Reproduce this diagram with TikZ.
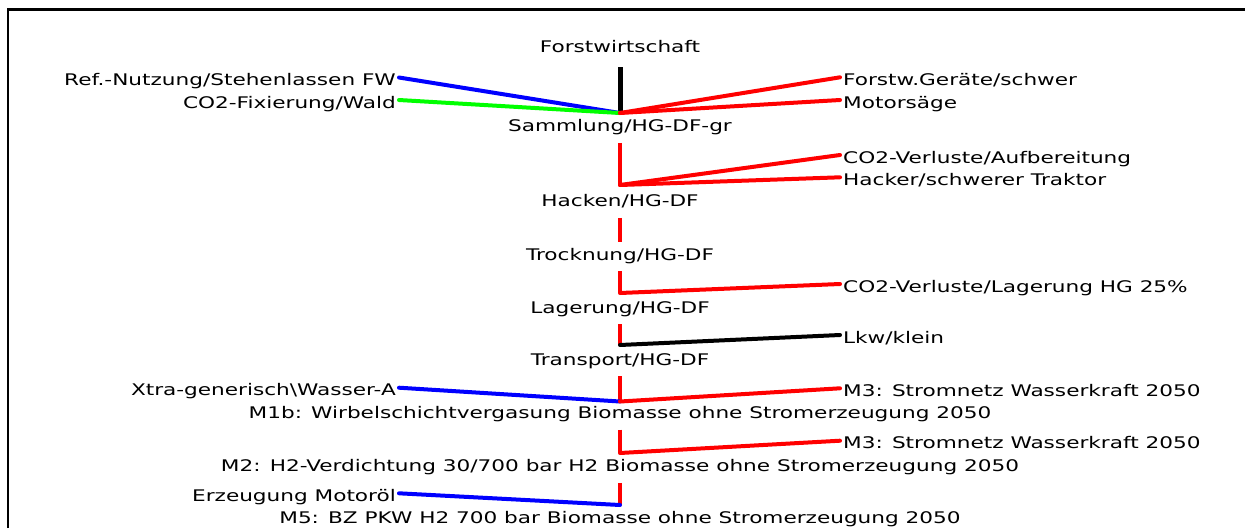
\documentclass[tikz,border=0pt]{standalone}
\usepackage{fontspec}
\setmainfont{DejaVu Sans}[FakeStretch=1.35]
\begin{document}
\begin{tikzpicture}[x=1pt,y=-1pt,
    lbl/.style={font=\fontsize{16}{18}\selectfont, inner ysep=0pt, inner xsep=3pt, text height=16pt, text depth=0pt},
    stage/.style={font=\fontsize{16}{18}\selectfont, inner sep=0pt, text height=12pt, text depth=4pt, anchor=base},
    flow/.style={line width=4pt, line cap=round},
    down/.style={line width=4pt, red, shorten <=7pt}]
\useasboundingbox (0,0) rectangle (1245,528);
\draw[line width=2.5pt] (8,528) -- (8,9.5) -- (1245,9.5);
% Prozesskette
\node[stage] (forst) at (620,52.5) {Forstwirtschaft};
\node[stage] (samm)  at (620,131.7) {Sammlung/HG-DF-gr};
\node[stage] (hack)  at (620,206.7) {Hacken/HG-DF};
\node[stage] (trock) at (620,260) {Trocknung/HG-DF};
\node[stage] (lager) at (620,313) {Lagerung/HG-DF};
\node[stage] (trans) at (620,365) {Transport/HG-DF};
\node[stage] (mb)    at (620,418.3) {M1b: Wirbelschichtvergasung Biomasse ohne Stromerzeugung 2050};
\node[stage] (mtwo)  at (620,471.7) {M2: H2-Verdichtung 30/700 bar H2 Biomasse ohne Stromerzeugung 2050};
\node[stage] (mfive) at (620,523.5) {M5: BZ PKW H2 700 bar Biomasse ohne Stromerzeugung 2050};
\coordinate (j1) at (620,113);
\coordinate (j2) at (620,185);
\coordinate (j4) at (620,293);
\coordinate (j5) at (620,345);
\coordinate (j6) at (620,401.5);
\coordinate (j7) at (620,453);
\coordinate (j8) at (620,505);
% Eingaenge
\node[lbl, anchor=east] (ref)    at (399,77.5) {Ref.-Nutzung/Stehenlassen FW};
\node[lbl, anchor=east] (fix)    at (399,100) {CO2-Fixierung/Wald};
\node[lbl, anchor=east] (xtra)   at (399,387.7) {Xtra-generisch\textbackslash{}Wasser-A};
\node[lbl, anchor=east] (motoel) at (399,493.3) {Erzeugung Motoröl};
\node[lbl, anchor=west] (geraet) at (840,77.3) {Forstw.Geräte/schwer};
\node[lbl, anchor=west] (saege)  at (840,100) {Motorsäge};
\node[lbl, anchor=west] (co2auf) at (840,155) {CO2-Verluste/Aufbereitung};
\node[lbl, anchor=west] (hacker) at (840,177.3) {Hacker/schwerer Traktor};
\node[lbl, anchor=west] (co2lag) at (840,284) {CO2-Verluste/Lagerung HG 25\%};
\node[lbl, anchor=west] (lkw)    at (840,335) {Lkw/klein};
\node[lbl, anchor=west] (stroma) at (840,388.3) {M3: Stromnetz Wasserkraft 2050};
\node[lbl, anchor=west] (stromb) at (840,440.7) {M3: Stromnetz Wasserkraft 2050};
% Verbindungen
\draw[line width=5pt, shorten <=10.5pt] (forst.south) -- (j1);
\draw[flow, blue] (ref.east) -- (j1);
\draw[flow, green] (fix.east) -- (j1);
\draw[flow, red] (j1) -- (geraet.west);
\draw[flow, red] (j1) -- (saege.west);
\draw[down] (samm.south) -- (j2);
\draw[flow, red] (j2) -- (co2auf.west);
\draw[flow, red] (j2) -- (hacker.west);
\draw[down, shorten >=6pt] (hack.south) -- (trock.north);
\draw[down] (trock.south) -- (j4);
\draw[flow, red] (j4) -- (co2lag.west);
\draw[down] (lager.south) -- (j5);
\draw[flow, black] (j5) -- (lkw.west);
\draw[down] (trans.south) -- (j6);
\draw[flow, blue] (xtra.east) -- (j6);
\draw[flow, red] (j6) -- (stroma.west);
\draw[down] (mb.south) -- (j7);
\draw[flow, red] (j7) -- (stromb.west);
\draw[down] (mtwo.south) -- (j8);
\draw[flow, blue] (motoel.east) -- (j8);
\end{tikzpicture}
\end{document}
